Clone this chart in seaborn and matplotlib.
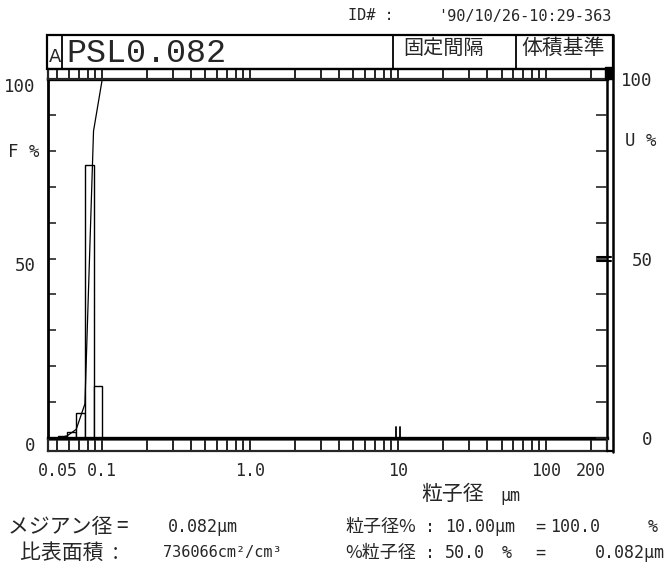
import numpy as np
import matplotlib
matplotlib.use("Agg")
import matplotlib.pyplot as plt
from matplotlib.lines import Line2D
from matplotlib.patches import Rectangle
from matplotlib.transforms import ScaledTranslation
import seaborn as sns

# ---- data -------------------------------------------------------------
# channel edges (um) and volume frequency per channel (%)
channel_edges = [0.0508, 0.0582, 0.0670, 0.0767, 0.0877, 0.1005]
channel_freq = [0.6, 1.8, 7.1, 76.0, 14.5]

x_tick_vals = [0.05, 0.1, 1, 10, 100, 200]
x_tick_text = ["0.05", "0.1", "1.0", "10", "100", "200"]
y_tick_vals = [0, 50, 100]
y_tick_text = ["0", "50", "100"]

sample_name = "PSL0.082"
record_id = "'90/10/26-10:29-363"
mode_labels = ["固定間隔", "体積基準"]
median_um = 0.082
specific_area = 736066
size_for_pct = 10.00      # um
pct_at_size = 100.0       # %
pct_for_size = 50.0       # %
size_at_pct = 0.082       # um

XMIN, XMAX = 0.0432, 258.0

# ---- figure -----------------------------------------------------------
W, H = 666, 573
sns.set_style("white")
plt.rcParams["font.family"] = ["DejaVu Sans Mono", "Noto Sans CJK JP"]
fig = plt.figure(figsize=(W / 100, H / 100), dpi=100)
fig.patch.set_facecolor("white")

def fx(x):
    return x / W

def fy(y):
    return 1 - y / H

CJK = ["Noto Sans CJK JP", "DejaVu Sans"]
MONO = ["DejaVu Sans Mono", "Noto Sans CJK JP"]

# plot area in pixels
L, R, T, B = 48, 607, 79, 438
ax = fig.add_axes([fx(L), fy(B), (R - L) / W, (B - T) / H])
ax.set_xscale("log")
ax.set_xlim(XMIN, XMAX)
ax.set_ylim(0, 100)
ax.set_facecolor("white")

# histogram bars
ax.bar(channel_edges[:-1], channel_freq, width=np.diff(channel_edges),
       align="edge", facecolor="white", edgecolor="black", linewidth=1.0,
       zorder=2)

# cumulative undersize curve
cum = np.concatenate([[0.0], np.cumsum(channel_freq)])
cx = [XMIN] + channel_edges + [XMAX]
cy = [0.0] + list(cum) + [cum[-1]]
sns.lineplot(x=cx, y=cy, ax=ax, color="black", linewidth=0.9,
             sort=False, estimator=None, zorder=3)

# spines
for side, lw in [("top", 2.4), ("bottom", 2.4), ("left", 2.0), ("right", 1.8)]:
    ax.spines[side].set_linewidth(lw)
    ax.spines[side].set_color("black")

# x tick labels below the ruler strip
ax.set_xticks(x_tick_vals)
ax.set_xticklabels(x_tick_text, fontsize=12, family=MONO)
ax.xaxis.set_minor_locator(matplotlib.ticker.NullLocator())
ax.tick_params(axis="x", length=0, pad=17)

# left F% axis
ax.set_yticks(np.arange(0, 101, 10))
ax.set_yticklabels(["0", "", "", "", "", "50", "", "", "", "", "100"],
                   fontsize=12.5, family=MONO)
ax.tick_params(axis="y", direction="in", length=6, width=1.2, pad=9,
               left=True, right=False)
for lab in ax.get_yticklabels():
    lab.set_transform(lab.get_transform()
                      + ScaledTranslation(0, -4 / 72, fig.dpi_scale_trans))

# right U% axis
axr = ax.twinx()
axr.set_ylim(0, 100)
axr.set_yticks(np.arange(0, 101, 10))
axr.set_yticklabels(["0", "", "", "", "", "50", "", "", "", "", "100"],
                    fontsize=12.5, family=MONO)
axr.tick_params(axis="y", direction="in", length=8, width=1.2, pad=33)
for lab in axr.get_yticklabels():
    lab.set_horizontalalignment("right")
for s in axr.spines.values():
    s.set_visible(False)

fig.text(fx(8), fy(152), "F %", fontsize=12.5, family=MONO, va="center")
fig.text(fx(625), fy(141), "U %", fontsize=12.5, family=MONO, va="center")

# markers: size at 100 % on the x axis, 50 % on the right axis
for dx in (-2, 2):
    off = ScaledTranslation(dx / 100, 0, fig.dpi_scale_trans)
    ax.plot([size_for_pct, size_for_pct], [-0.012, 0.03], color="black",
            lw=1.3, transform=ax.get_xaxis_transform() + off, clip_on=False)
    offy = ScaledTranslation(0, dx / 100, fig.dpi_scale_trans)
    ax.plot([0.982, 1.008], [pct_for_size, pct_for_size], color="black",
            lw=1.5, transform=ax.get_yaxis_transform() + offy, clip_on=False)

# ruler strips above and below the plot
def ruler(y_top, y_bot):
    s = fig.add_axes([fx(L), fy(y_bot), (R - L) / W, (y_bot - y_top) / H])
    s.set_xscale("log")
    s.set_xlim(XMIN, XMAX)
    s.set_ylim(0, 1)
    s.set_facecolor("white")
    marks = [0.05, 0.06, 0.07, 0.08, 0.09]
    for dec in (0.1, 1, 10):
        marks += [dec * k for k in range(1, 10)]
    marks += [100, 200]
    s.vlines(marks, 0, 1, color="black", lw=1.2)
    s.set_xticks([])
    s.xaxis.set_minor_locator(matplotlib.ticker.NullLocator())
    s.set_yticks([])
    s.tick_params(length=0, labelbottom=False, labelleft=False)
    for side in s.spines.values():
        side.set_linewidth(1.6)
    return s

ruler(69, 79)
rb = ruler(440, 451)
rb.spines["top"].set_linewidth(0.5)

# outer frame: header box, double right edge, corner block
fig.add_artist(Rectangle((fx(47), fy(69)), (613 - 47) / W, (69 - 35) / H,
                         transform=fig.transFigure, fill=False,
                         edgecolor="black", lw=1.6))
fig.add_artist(Line2D([fx(613), fx(613)], [fy(35), fy(452)], color="black",
                      lw=1.8))
fig.add_artist(Line2D([fx(607), fx(613)], [fy(451), fy(451)], color="black",
                      lw=1.6))
fig.add_artist(Rectangle((fx(605), fy(79)), 8 / W, 12 / H,
                         transform=fig.transFigure, facecolor="black",
                         edgecolor="black"))
for xd in (62, 393, 516):
    fig.add_artist(Line2D([fx(xd), fx(xd)], [fy(35), fy(69)],
                          color="black", lw=1.3))

# header texts
fig.text(fx(55), fy(57), "A", fontsize=13, family=["DejaVu Sans"],
         ha="center", va="center")
fig.text(fx(66), fy(54), sample_name, fontsize=24,
         family=["Liberation Mono"], va="center")
fig.text(fx(443), fy(48), mode_labels[0], fontsize=14.5, family=CJK,
         ha="center", va="center")
fig.text(fx(563), fy(48), mode_labels[1], fontsize=15, family=CJK,
         ha="center", va="center")
fig.text(fx(348), fy(16), "ID# :", fontsize=11, family=MONO, va="center")
fig.text(fx(612), fy(16), record_id, fontsize=11, family=MONO,
         ha="right", va="center")

# axis title
fig.text(fx(453), fy(494), "粒子径", fontsize=15, family=CJK,
         ha="center", va="center")
fig.text(fx(500), fy(496), "μm", fontsize=12, family=MONO, va="center")

# result lines
y1, y2 = 527, 553
fig.text(fx(8), fy(y1), "メジアン径 =", fontsize=15, family=CJK, va="center")
fig.text(fx(168), fy(y1), f"{median_um:.3f}μm", fontsize=12, family=MONO,
         va="center")
fig.text(fx(20), fy(y2), "比表面積  :", fontsize=15, family=CJK, va="center")
fig.text(fx(163), fy(y2), f"{specific_area}cm²/cm³", fontsize=11,
         family=MONO, va="center")

fig.text(fx(345), fy(y1), "粒子径%", fontsize=13, family=CJK, va="center")
fig.text(fx(425), fy(y1), ":", fontsize=12, family=MONO, va="center")
fig.text(fx(445), fy(y1), f"{size_for_pct:.2f}μm", fontsize=12, family=MONO,
         va="center")
fig.text(fx(535), fy(y1), "=", fontsize=12, family=MONO, va="center")
fig.text(fx(550), fy(y1), f"{pct_at_size:.1f}", fontsize=12, family=MONO,
         va="center")
fig.text(fx(648), fy(y1), "%", fontsize=12, family=MONO, va="center")

fig.text(fx(345), fy(y2), "%粒子径", fontsize=13, family=CJK, va="center")
fig.text(fx(425), fy(y2), ":", fontsize=12, family=MONO, va="center")
fig.text(fx(445), fy(y2), f"{pct_for_size:.1f}", fontsize=12, family=MONO,
         va="center")
fig.text(fx(502), fy(y2), "%", fontsize=12, family=MONO, va="center")
fig.text(fx(535), fy(y2), "=", fontsize=12, family=MONO, va="center")
fig.text(fx(665), fy(y2), f"{size_at_pct:.3f}μm", fontsize=12, family=MONO,
         va="center", ha="right")

fig.savefig("out.png", dpi=100, facecolor="white")
